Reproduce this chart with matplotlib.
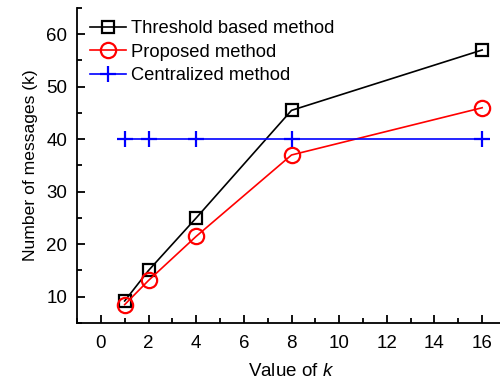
import numpy as np
import matplotlib.pyplot as plt
from matplotlib.ticker import MultipleLocator

plt.rcParams['font.family'] = ['Liberation Sans', 'DejaVu Sans']
plt.rcParams['mathtext.fontset'] = 'custom'
plt.rcParams['mathtext.it'] = 'Liberation Sans:italic'

k_vals = [1, 2, 4, 8, 16]
threshold = [9.2, 15.0, 25.0, 45.5, 57.0]
proposed = [8.5, 13.1, 21.5, 37.0, 46.0]
centralized = [40, 40, 40, 40, 40]

fig = plt.figure(figsize=(5, 3.8), dpi=100)
ax = fig.add_axes([0.154, 0.15, 0.858, 0.829])

ax.plot(k_vals, threshold, color='black', lw=1.2, marker='s', ms=9,
        mfc='none', mec='black', mew=1.6, label='Threshold based method')
ax.plot(k_vals, proposed, color='red', lw=1.2, marker='o', ms=11,
        mfc='none', mec='red', mew=1.6, label='Proposed method')
ax.plot(k_vals, centralized, color='blue', lw=1.2, marker='+', ms=12,
        mew=1.6, label='Centralized method')

ax.set_xlim(-1, 17)
ax.set_ylim(5, 65)
ax.xaxis.set_major_locator(MultipleLocator(2))
ax.xaxis.set_minor_locator(MultipleLocator(1))
ax.yaxis.set_major_locator(MultipleLocator(10))
ax.yaxis.set_minor_locator(MultipleLocator(5))
ax.set_yticks(range(10, 61, 10))

ax.spines['top'].set_visible(False)
ax.spines['right'].set_visible(False)
for s in ('left', 'bottom'):
    ax.spines[s].set_linewidth(1.3)
ax.tick_params(which='major', direction='in', length=6, width=1.3, labelsize=13.5, pad=7)
ax.tick_params(axis='x', which='major', pad=8.5)
ax.tick_params(which='minor', direction='in', length=3.5, width=1.3)

ax.set_xlabel('Value of $k$', fontsize=13.5, labelpad=8)
ax.set_ylabel('Number of messages (k)', fontsize=12.6, labelpad=6)

ax.legend(loc='upper left', bbox_to_anchor=(0.0, 1.002), frameon=False,
          fontsize=13.2, handlelength=1.95, handletextpad=0.3, labelspacing=0.36,
          borderaxespad=0.3)

fig.savefig('out.png', dpi=100)
